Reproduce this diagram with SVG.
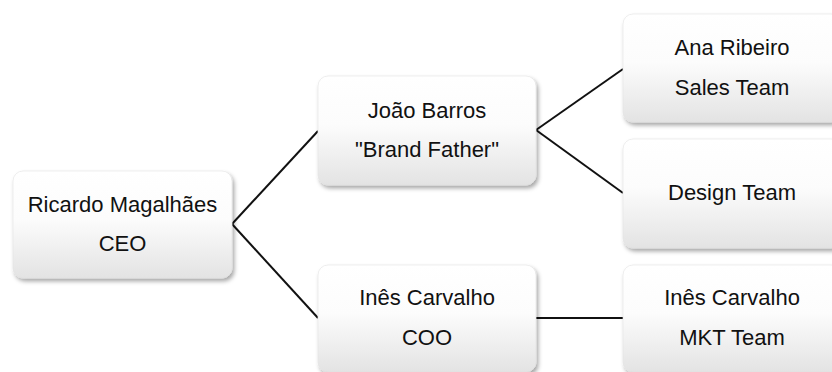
<svg xmlns="http://www.w3.org/2000/svg" width="832" height="372" viewBox="0 0 832 372">
<style>
.box{fill:url(#g);stroke:#e2e2e2;stroke-width:0.6;filter:url(#sh)}
.t{font-family:"Liberation Sans",Arial,sans-serif;font-size:22px;fill:#111;text-anchor:middle}
.c{stroke:#111;stroke-width:2;fill:none}
</style>
<defs>
<linearGradient id="g" x1="0" y1="0" x2="0" y2="1">
<stop offset="0" stop-color="#ffffff"/>
<stop offset="0.45" stop-color="#fcfcfc"/>
<stop offset="1" stop-color="#e3e3e3"/>
</linearGradient>
<filter id="sh" x="-10%" y="-10%" width="125%" height="130%">
<feDropShadow dx="2" dy="3" stdDeviation="2" flood-color="#000" flood-opacity="0.35"/>
</filter>
</defs>
<rect width="832" height="372" fill="#ffffff"/>
<g id="connectors">
<line class="c" x1="232" y1="224" x2="318" y2="131"/>
<line class="c" x1="232" y1="224" x2="318" y2="318"/>
<line class="c" x1="536" y1="130" x2="623" y2="69"/>
<line class="c" x1="536" y1="130" x2="623" y2="193"/>
<line class="c" x1="536" y1="318" x2="623" y2="318"/>
</g>
<g id="ceo">
<rect class="box" x="13" y="171" width="219" height="107" rx="10"/>
<text class="t" x="122.5" y="212">Ricardo Magalhães</text>
<text class="t" x="122.5" y="251">CEO</text>
</g>
<g id="joao">
<rect class="box" x="318" y="76" width="218" height="109" rx="10"/>
<text class="t" x="427" y="118">João Barros</text>
<text class="t" x="427" y="157">"Brand Father"</text>
</g>
<g id="ines-coo">
<rect class="box" x="318" y="265" width="218" height="107" rx="10"/>
<text class="t" x="427" y="305">Inês Carvalho</text>
<text class="t" x="427" y="345">COO</text>
</g>
<g id="ana">
<rect class="box" x="623" y="14" width="218" height="108" rx="10"/>
<text class="t" x="732" y="55">Ana Ribeiro</text>
<text class="t" x="732" y="95">Sales Team</text>
</g>
<g id="design">
<rect class="box" x="623" y="139" width="218" height="109" rx="10"/>
<text class="t" x="732" y="200">Design Team</text>
</g>
<g id="mkt">
<rect class="box" x="623" y="265" width="218" height="107" rx="10"/>
<text class="t" x="732" y="305">Inês Carvalho</text>
<text class="t" x="732" y="345">MKT Team</text>
</g>
</svg>
